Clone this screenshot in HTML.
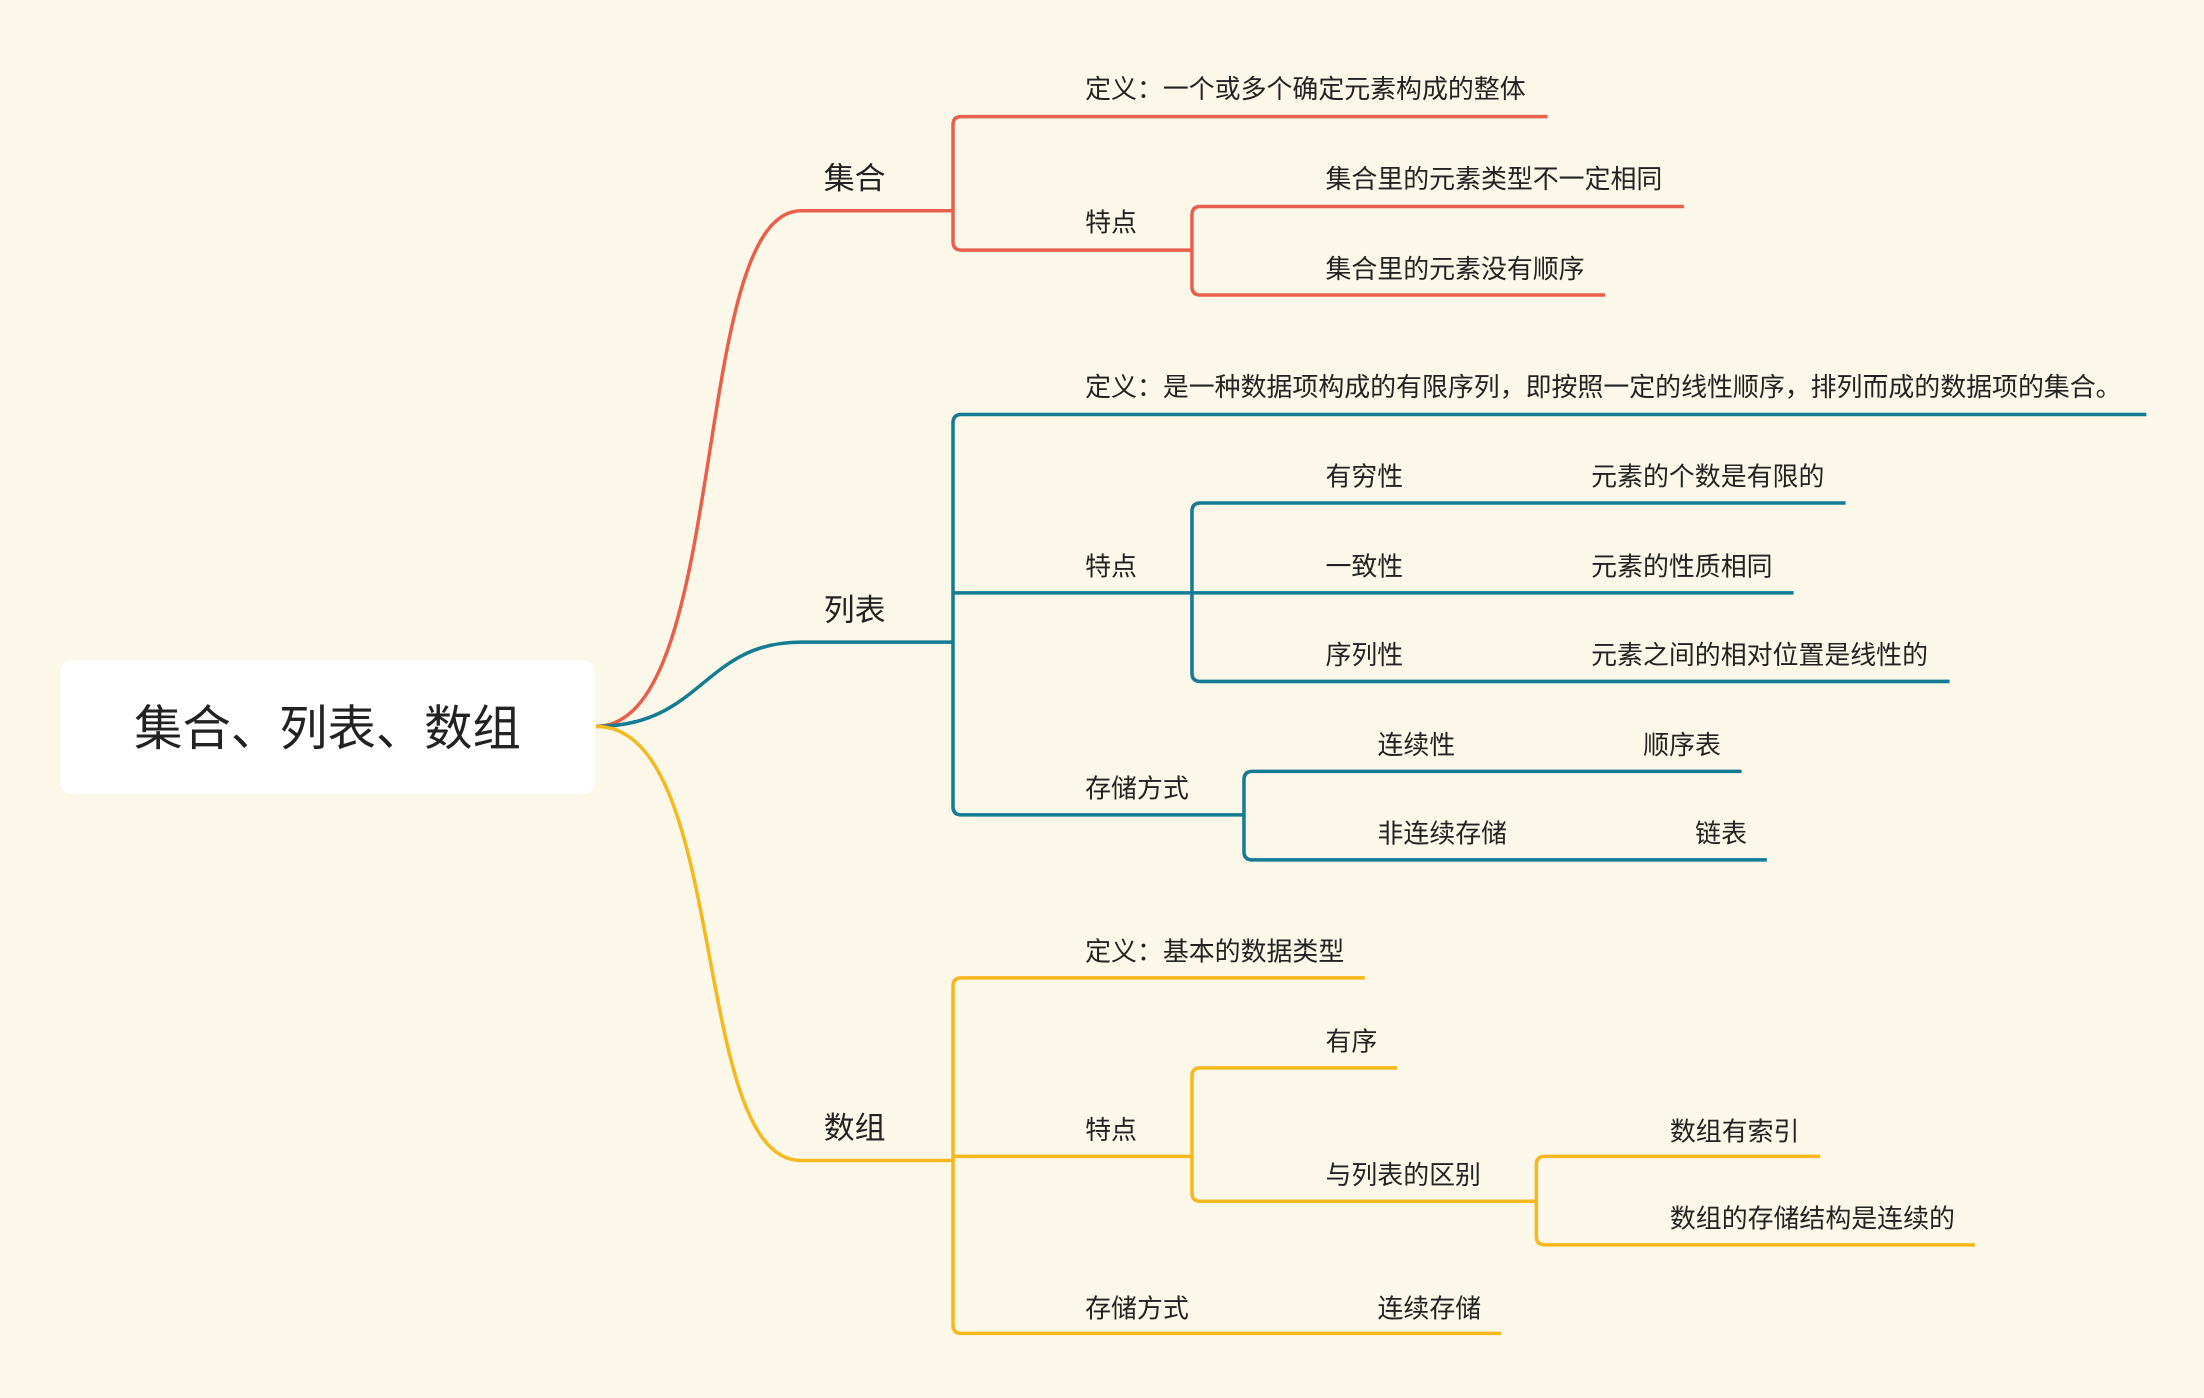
<!DOCTYPE html>
<html><head><meta charset="utf-8"><style>
html,body{margin:0;padding:0;background:#fcf8e9;}
svg{display:block;}
text{font-family:"Liberation Sans","Noto Sans CJK SC",sans-serif;fill:#222;dominant-baseline:central;}
</style></head><body>
<svg width="2204" height="1398" viewBox="0 0 1568 995" preserveAspectRatio="none" xmlns="http://www.w3.org/2000/svg">
<rect width="1568" height="995" fill="#fcf8e9"/>
<rect x="43" y="470" width="380" height="95" rx="8" fill="#fff"/>
<text x="233" y="519" font-size="34.4" text-anchor="middle">集合、列表、数组</text>
<g fill="none" stroke-width="2.5">
<g stroke="#e8604c">
<path d="M424,517 C520,517 490,150 570,150 L678,150"/>
<path d="M1101,83 L684,83 Q678,83 678,89 L678,172 Q678,178 684,178 L848,178"/>
<path d="M1198,147 L854,147 Q848,147 848,153 L848,204 Q848,210 854,210 L1142,210"/>
</g>
<g stroke="#137b93">
<path d="M424,517 C500,517 500,457 570,457 L678,457"/>
<path d="M1527,295 L684,295 Q678,295 678,301 L678,574 Q678,580 684,580 L885,580"/>
<path d="M678,422 L848,422"/>
<path d="M1313,358 L854,358 Q848,358 848,364 L848,479 Q848,485 854,485 L1387,485"/>
<path d="M848,422 L1276,422"/>
<path d="M1239,549 L891,549 Q885,549 885,555 L885,606 Q885,612 891,612 L1257,612"/>
</g>
<g stroke="#f6b81e">
<path d="M424,517 C520,517 490,826 570,826 L678,826"/>
<path d="M971,696 L684,696 Q678,696 678,702 L678,943 Q678,949 684,949 L1068,949"/>
<path d="M678,823 L848,823"/>
<path d="M994,760 L854,760 Q848,760 848,766 L848,849 Q848,855 854,855 L1093,855"/>
<path d="M1295,823 L1099,823 Q1093,823 1093,829 L1093,880 Q1093,886 1099,886 L1405,886"/>
</g>
</g>
<g font-size="22">
<text x="586" y="127">集合</text>
<text x="586" y="434">列表</text>
<text x="586" y="803">数组</text>
</g>
<g font-size="18.45">
<text x="772" y="64">定义：一个或多个确定元素构成的整体</text>
<text x="772" y="159">特点</text>
<text x="943" y="128">集合里的元素类型不一定相同</text>
<text x="943" y="192">集合里的元素没有顺序</text>
<text x="772" y="276">定义：是一种数据项构成的有限序列，即按照一定的线性顺序，排列而成的数据项的集合。</text>
<text x="772" y="404">特点</text>
<text x="943" y="340">有穷性</text><text x="1132" y="340">元素的个数是有限的</text>
<text x="943" y="404">一致性</text><text x="1132" y="404">元素的性质相同</text>
<text x="943" y="467">序列性</text><text x="1132" y="467">元素之间的相对位置是线性的</text>
<text x="772" y="562">存储方式</text>
<text x="980" y="531">连续性</text><text x="1169" y="531">顺序表</text>
<text x="980" y="594">非连续存储</text><text x="1206" y="594">链表</text>
<text x="772" y="678">定义：基本的数据类型</text>
<text x="772" y="805">特点</text>
<text x="943" y="742">有序</text>
<text x="943" y="837">与列表的区别</text>
<text x="1188" y="806">数组有索引</text>
<text x="1188" y="868">数组的存储结构是连续的</text>
<text x="772" y="932">存储方式</text>
<text x="980" y="932">连续存储</text>
</g>
</svg>
</body></html>
